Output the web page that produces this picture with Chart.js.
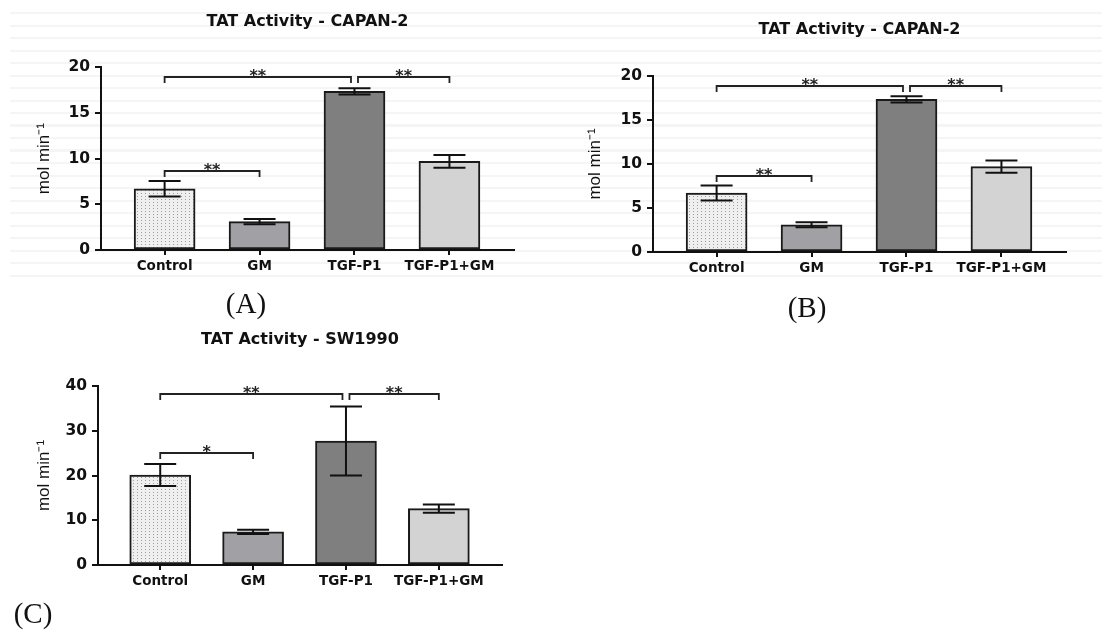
<!DOCTYPE html>
<html>
<head>
<meta charset="utf-8">
<script src="https://cdn.jsdelivr.net/npm/chart.js@4.4.1/dist/chart.umd.min.js"></script>
<style>
html,body{margin:0;padding:0;background:#fff;width:1102px;height:634px;overflow:hidden;}
body{position:relative;}
.stripes{position:absolute;background:repeating-linear-gradient(to bottom, rgba(255,255,255,0) 0px, rgba(255,255,255,0) 10px, #f5f5f5 10px, #f5f5f5 12.5px);}
.panel{position:absolute;}
.plabel{position:absolute;font-family:"Liberation Serif","Times New Roman",serif;font-size:29px;color:#111;transform:translate(-50%,-50%);white-space:nowrap;line-height:1;}
</style>
</head>
<body>
<div class="stripes" style="left:10px;top:2px;width:550px;height:278px"></div>
<div class="stripes" style="left:560px;top:2px;width:542px;height:280px"></div>
<div class="panel" style="left:0px;top:0px;width:540px;height:290px"><canvas id="chartA"></canvas></div>
<div class="panel" style="left:560px;top:0px;width:542px;height:292px"><canvas id="chartB"></canvas></div>
<div class="panel" style="left:0px;top:320px;width:540px;height:285px"><canvas id="chartC"></canvas></div>
<div class="plabel" style="left:246px;top:303px">(A)</div>
<div class="plabel" style="left:807px;top:307px">(B)</div>
<div class="plabel" style="left:33px;top:613px">(C)</div>
<script>
// ---- data ----
const categories = ['Control', 'GM', 'TGF-P1', 'TGF-P1+GM'];
const capan2Means = [6.7, 3.1, 17.35, 9.7];
const capan2Errors = [0.85, 0.28, 0.35, 0.7];
const capan2Ticks = [0, 5, 10, 15, 20];
const capan2Sig = [[0, 2, 18.9, '**'], [2, 3, 18.9, '**'], [0, 1, 8.6, '**']];
const sw1990Means = [20.1, 7.4, 27.7, 12.6];
const sw1990Errors = [2.45, 0.5, 7.7, 0.9];
const sw1990Ticks = [0, 10, 20, 30, 40];
const sw1990Sig = [[0, 2, 38.2, '**'], [2, 3, 38.2, '**'], [0, 1, 25, '*']];
const yTitle = 'mol min\u207B\u00B9';

const FONT = '"DejaVu Sans", "Liberation Sans", Arial, sans-serif';

function dotPattern() {
  const c = document.createElement('canvas');
  c.width = 4; c.height = 3;
  const g = c.getContext('2d');
  g.fillStyle = '#efefef'; g.fillRect(0, 0, 4, 3);
  g.fillStyle = '#9f9f9f'; g.fillRect(1, 1, 1, 1);
  return g.createPattern(c, 'repeat');
}

function makeAnnot(means, errors, sig) {
  return {
    id: 'annot',
    afterDatasetsDraw(chart) {
      const ctx = chart.ctx, xs = chart.scales.x, ys = chart.scales.y;
      const cap = 16, gap = 3.5, drop = 6;
      ctx.save();
      ctx.strokeStyle = '#111';
      ctx.lineWidth = 2;
      means.forEach((m, i) => {
        const px = xs.getPixelForValue(i);
        const hi = ys.getPixelForValue(m + errors[i]);
        const lo = ys.getPixelForValue(m - errors[i]);
        ctx.beginPath();
        ctx.moveTo(px, hi); ctx.lineTo(px, lo);
        ctx.moveTo(px - cap, hi); ctx.lineTo(px + cap, hi);
        ctx.moveTo(px - cap, lo); ctx.lineTo(px + cap, lo);
        ctx.stroke();
      });
      ctx.lineWidth = 1.8;
      ctx.strokeStyle = '#222';
      ctx.fillStyle = '#222';
      ctx.font = 'bold 16px ' + FONT;
      ctx.textAlign = 'center';
      ctx.textBaseline = 'alphabetic';
      sig.forEach((s) => {
        const [a, b, v, label] = s;
        let xa = xs.getPixelForValue(a), xb = xs.getPixelForValue(b);
        if (sig.some(t => t !== s && t[0] === b && t[2] === v)) xb -= gap;
        if (sig.some(t => t !== s && t[1] === a && t[2] === v)) xa += gap;
        const py = Math.round(ys.getPixelForValue(v));
        ctx.beginPath();
        ctx.moveTo(xa, py + drop); ctx.lineTo(xa, py); ctx.lineTo(xb, py); ctx.lineTo(xb, py + drop);
        ctx.stroke();
        ctx.fillText(label, (xa + xb) / 2, py + 4);
      });
      ctx.restore();
    }
  };
}

function build(id, means, errors, ticks, sig, title, lay) {
  return new Chart(document.getElementById(id), {
    type: 'bar',
    data: {
      datasets: [{
        data: means.map((m, i) => ({ x: i, y: m })),
        backgroundColor: [dotPattern(), '#a1a1a5', '#7f7f7f', '#d3d3d3'],
        borderColor: '#1a1a1a',
        borderWidth: 2,
        borderSkipped: false,
        barThickness: 61
      }]
    },
    options: {
      responsive: true,
      maintainAspectRatio: false,
      animation: false,
      layout: { padding: { left: 0, right: lay.right, top: 0, bottom: 0 } },
      plugins: {
        legend: { display: false },
        tooltip: { enabled: false },
        title: {
          display: true, text: title, fullSize: false, color: '#111',
          font: { family: FONT, size: 16, weight: 'bold', lineHeight: 1.2 },
          padding: { top: lay.titleTop, bottom: lay.titleBottom }
        }
      },
      scales: {
        x: {
          type: 'linear', min: -0.67, max: 3.68, offset: false,
          afterBuildTicks: s => { s.ticks = categories.map((_, i) => ({ value: i })); },
          afterFit: s => { s.height = 40; },
          grid: { offset: false, drawOnChartArea: false, drawTicks: true, tickLength: 5, color: '#111', lineWidth: 2 },
          border: { display: true, color: '#111', width: 2 },
          ticks: {
            callback: v => categories[v], color: '#111', autoSkip: false, maxRotation: 0,
            font: { family: FONT, size: 13.5, weight: 'bold' }, padding: 3
          }
        },
        y: {
          min: ticks[0], max: ticks[ticks.length - 1],
          afterBuildTicks: s => { s.ticks = ticks.map(v => ({ value: v })); },
          afterFit: s => { s.width = lay.axis; },
          grid: { drawOnChartArea: false, drawTicks: true, tickLength: 6, color: '#111', lineWidth: 2 },
          border: { display: true, color: '#111', width: 2 },
          ticks: { color: '#111', font: { family: FONT, size: 15.5, weight: 'bold' }, padding: 5 },
          title: {
            display: true, text: yTitle, color: '#111',
            font: { family: '"Liberation Sans", Arial, sans-serif', size: 17, weight: 'normal', lineHeight: 1.2 },
            padding: { top: lay.yTitle, bottom: 0 }
          }
        }
      }
    },
    plugins: [makeAnnot(means, errors, sig)]
  });
}

build('chartA', capan2Means, capan2Errors, capan2Ticks, capan2Sig, 'TAT Activity - CAPAN-2',
  { right: 26, titleTop: 12, titleBottom: 36, axis: 101, yTitle: 34 });
build('chartB', capan2Means, capan2Errors, capan2Ticks, capan2Sig, 'TAT Activity - CAPAN-2',
  { right: 36, titleTop: 20, titleBottom: 36.8, axis: 93, yTitle: 25 });
build('chartC', sw1990Means, sw1990Errors, sw1990Ticks, sw1990Sig, 'TAT Activity - SW1990',
  { right: 38, titleTop: 10, titleBottom: 36.8, axis: 98, yTitle: 34 });
</script>
</body>
</html>
